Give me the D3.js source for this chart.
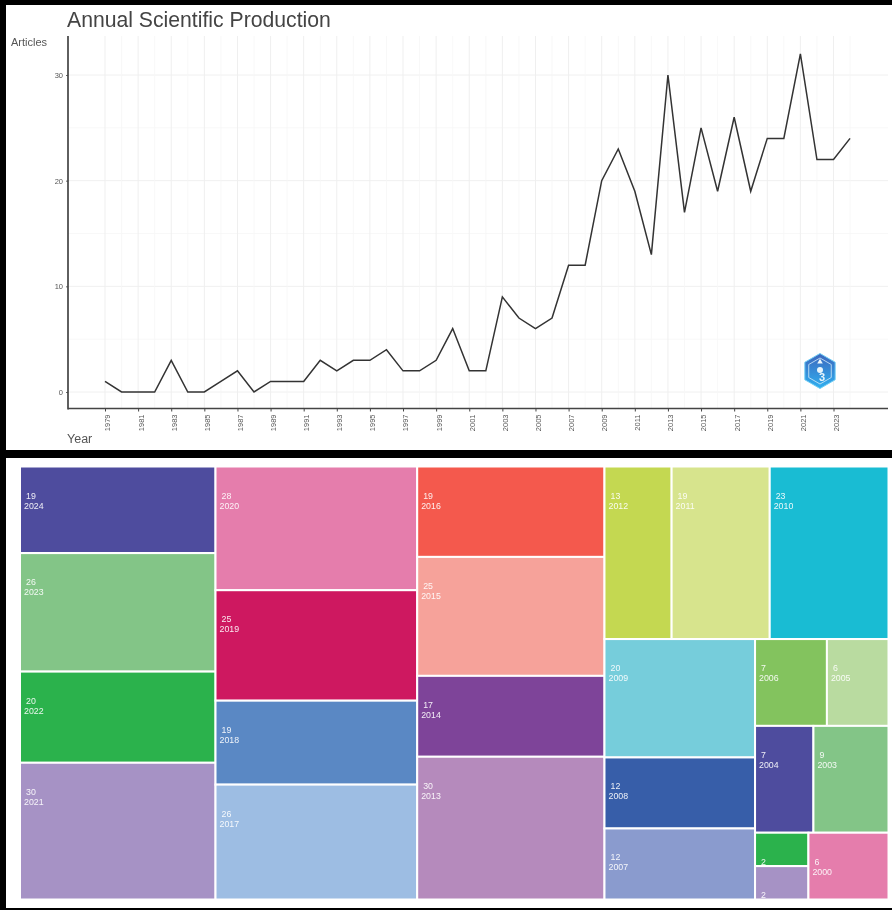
<!DOCTYPE html>
<html>
<head>
<meta charset="utf-8">
<script src="https://cdn.jsdelivr.net/npm/d3@7"></script>
<style>
    html, body { margin: 0; padding: 0; background: #000; }
    svg { display: block; font-family: "Liberation Sans", Arial, sans-serif; filter: blur(0.45px); }
</style>
</head>
<body>
<svg id="chart" width="892" height="910"></svg>
<script>
// annual production (top panel)
const years = d3.range(1979, 2025);
const articles = [1, 0, 0, 0, 3, 0, 0, 1, 2, 0, 1, 1, 1, 3, 2, 3, 3, 4, 2, 2, 3, 6, 2, 2, 9, 7, 6, 7, 12, 12, 20, 23, 19, 13, 30, 17, 25, 19, 26, 19, 24, 24, 32, 22, 22, 24];
const yearTicks = d3.range(1979, 2024, 2);
const yTicks = [0, 10, 20, 30];
const yMinor = [5, 15, 25];

// treemap (bottom panel), values read as printed in the cells
const treeYears = [2024, 2023, 2022, 2021, 2020, 2019, 2018, 2017, 2016, 2015, 2014, 2013, 2012, 2011, 2010, 2009, 2008, 2007, 2006, 2005, 2004, 2003, 2002, 2001, 2000];
const treeValues = [19, 26, 20, 30, 28, 25, 19, 26, 19, 25, 17, 30, 13, 19, 23, 20, 12, 12, 7, 6, 7, 9, 2, 2, 6];
const treeColors = ["#4e4c9e", "#83c587", "#2bb24c", "#a692c5", "#e57dac", "#ce1860", "#5a88c4", "#9dbde3", "#f4594d", "#f6a29a", "#7e4499", "#b58abc", "#c4d851", "#d7e48d", "#19bcd3", "#76cddb", "#375ea9", "#8a9bce", "#83c35e", "#b9dba0", "#4e4c9e", "#83c587", "#2bb24c", "#a692c5", "#e57dac"];
// how the years nest: columns, rows, columns...
const treeNesting = [
    [2024, 2023, 2022, 2021],
    [2020, 2019, 2018, 2017],
    [2016, 2015, 2014, 2013],
    [
        [2012, 2011, 2010],
        [
            [2009, 2008, 2007],
            [[2006, 2005], [2004, 2003], [[2002, 2001], 2000]]
        ]
    ]
];

const svg = d3.select("#chart");

// panels
svg.append("rect").attr("x", 6).attr("y", 5).attr("width", 886).attr("height", 445).attr("fill", "#fff");
svg.append("rect").attr("x", 6).attr("y", 458).attr("width", 886).attr("height", 450).attr("fill", "#fff");

/* ---- line chart ---- */
const x = d3.scaleLinear().domain([1979, 2023]).range([105, 833.5]);
const y = d3.scaleLinear().domain([0, 30]).range([392, 75]);
const axisX = 68, axisY = 408.5, plotTop = 36, plotRight = 888;

const linePanel = svg.append("g");

linePanel.selectAll(".grid-minor-y").data(yMinor).enter().append("line")
    .attr("class", "grid-minor-y")
    .attr("x1", axisX).attr("x2", plotRight)
    .attr("y1", d => y(d)).attr("y2", d => y(d))
    .attr("stroke", "#f6f6f6").attr("stroke-width", 0.8);

linePanel.selectAll(".grid-y").data(yTicks).enter().append("line")
    .attr("class", "grid-y")
    .attr("x1", axisX).attr("x2", plotRight)
    .attr("y1", d => y(d)).attr("y2", d => y(d))
    .attr("stroke", "#f0f0f0").attr("stroke-width", 1);

linePanel.selectAll(".grid-x").data(years).enter().append("line")
    .attr("class", "grid-x")
    .attr("x1", d => x(d)).attr("x2", d => x(d))
    .attr("y1", plotTop).attr("y2", axisY)
    .attr("stroke", d => (d % 2 ? "#efefef" : "#f6f6f6"))
    .attr("stroke-width", d => (d % 2 ? 1 : 0.8));

const line = d3.line().x((d, i) => x(years[i])).y(d => y(d));
linePanel.append("path").datum(articles)
    .attr("d", line)
    .attr("fill", "none")
    .attr("stroke", "#333")
    .attr("stroke-width", 1.5);

const xAxis = d3.axisBottom(x).tickValues(yearTicks).tickFormat(d3.format("d")).tickSize(3).tickPadding(4);
const gx = linePanel.append("g").attr("transform", `translate(0,${axisY})`).call(xAxis);
gx.select(".domain").remove();
gx.selectAll("line").attr("stroke", "#444");
gx.selectAll("text")
    .attr("transform", "rotate(-90)")
    .attr("text-anchor", "end")
    .attr("x", -6).attr("y", 2.5).attr("dy", "0.32em")
    .attr("font-size", 7.5).attr("fill", "#555").attr("font-family", "'Liberation Sans', Arial, sans-serif");

const yAxis = d3.axisLeft(y).tickValues(yTicks).tickSize(2).tickPadding(3);
const gy = linePanel.append("g").attr("transform", `translate(${axisX},0)`).call(yAxis);
gy.select(".domain").remove();
gy.selectAll("line").attr("stroke", "#666");
gy.selectAll("text").attr("font-size", 7.5).attr("fill", "#555").attr("font-family", "'Liberation Sans', Arial, sans-serif");

linePanel.append("line").attr("x1", axisX).attr("x2", axisX).attr("y1", plotTop).attr("y2", axisY + 1)
    .attr("stroke", "#444").attr("stroke-width", 1.7);
linePanel.append("line").attr("x1", axisX).attr("x2", plotRight).attr("y1", axisY).attr("y2", axisY)
    .attr("stroke", "#444").attr("stroke-width", 1.7);

linePanel.append("text").text("Annual Scientific Production")
    .attr("x", 67).attr("y", 27).attr("font-size", 21.2).attr("fill", "#444");
linePanel.append("text").text("Articles")
    .attr("x", 11).attr("y", 46).attr("font-size", 11).attr("fill", "#555");
linePanel.append("text").text("Year")
    .attr("x", 67).attr("y", 443).attr("font-size", 12.5).attr("fill", "#555");

// hexagon badge, bottom right of the plot
const badge = linePanel.append("g").attr("transform", "translate(820,371)");
const grad = svg.append("defs").append("linearGradient")
    .attr("id", "badgeFill").attr("x1", 0).attr("x2", 0).attr("y1", 0).attr("y2", 1);
grad.append("stop").attr("offset", 0).attr("stop-color", "#3d66bd");
grad.append("stop").attr("offset", 1).attr("stop-color", "#2fb0f0");
const hex = d3.lineRadial().curve(d3.curveLinearClosed);
const hexPoints = r => d3.range(6).map(i => [i * Math.PI / 3, r]);
badge.append("path").attr("d", hex(hexPoints(17.5))).attr("fill", "url(#badgeFill)")
    .attr("stroke", "#6fcdf5").attr("stroke-width", 1);
badge.append("path").attr("d", hex(hexPoints(13))).attr("fill", "none").attr("stroke", "#d5ebf9").attr("stroke-width", 0.8);
badge.append("path").attr("d", hex(d3.range(3).map(i => [i * 2 * Math.PI / 3, 3.2])))
    .attr("transform", "translate(0,-9)").attr("fill", "#eef7fc");
badge.append("circle").attr("cy", -1).attr("r", 3).attr("fill", "#e8f4fb");
badge.append("text").text("3").attr("y", 10).attr("x", 2).attr("text-anchor", "middle")
    .attr("font-size", 11).attr("font-weight", "bold").attr("fill", "#e8f4fb");

/* ---- treemap ---- */
const valueOf = new Map(treeYears.map((d, i) => [d, treeValues[i]]));
const colorOf = d3.scaleOrdinal().domain(treeYears).range(treeColors);

const toNode = n => Array.isArray(n) ? {children: n.map(toNode)} : {year: n, value: valueOf.get(n)};
const root = d3.hierarchy(toNode(treeNesting)).sum(d => d.value || 0);

d3.treemap()
    .tile(d3.treemapSliceDice)
    .size([868.5, 433])(root);

const tree = svg.append("g").attr("transform", "translate(20,466.5)");
const cell = tree.selectAll("g").data(root.leaves()).enter().append("g")
    .attr("transform", d => `translate(${d.x0},${d.y0})`);

cell.append("clipPath").attr("id", d => "clip" + d.data.year)
    .append("rect")
    .attr("width", d => d.x1 - d.x0).attr("height", d => d.y1 - d.y0);

cell.append("rect")
    .attr("width", d => d.x1 - d.x0)
    .attr("height", d => d.y1 - d.y0)
    .attr("fill", d => colorOf(d.data.year))
    .attr("stroke", "#fff").attr("stroke-width", 2);

const label = cell.append("text")
    .attr("clip-path", d => `url(#clip${d.data.year})`)
    .attr("fill", "#fff").attr("fill-opacity", 0.9).attr("font-size", 8.8);
label.append("tspan").attr("x", 6).attr("y", 32).text(d => d.data.value);
label.append("tspan").attr("x", 4).attr("y", 42).text(d => d.data.year);
</script>
</body>
</html>
